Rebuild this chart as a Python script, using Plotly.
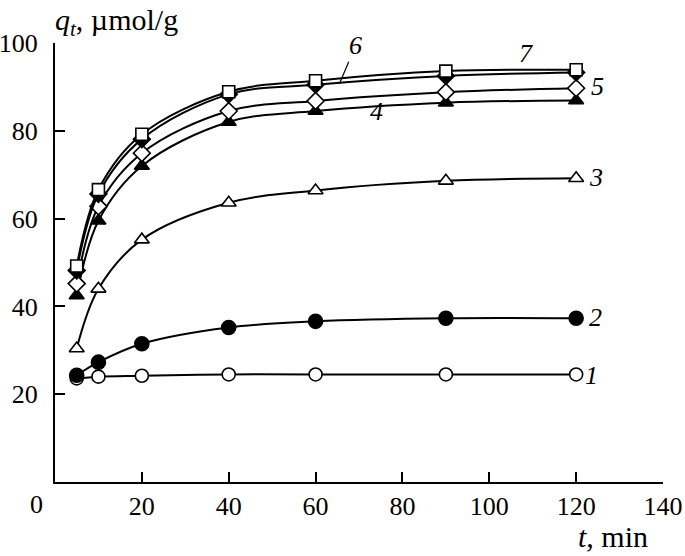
import plotly.graph_objects as go

# adsorption kinetics, q_t vs t for 7 samples
t = [5, 10, 20, 40, 60, 90, 120]
q1 = [23.6, 24.0, 24.2, 24.5, 24.5, 24.5, 24.5]
q2 = [24.3, 27.3, 31.5, 35.2, 36.6, 37.3, 37.3]
q3 = [30.4, 44.0, 55.2, 63.6, 66.4, 68.6, 69.2]
q4 = [42.5, 59.5, 72.0, 82.0, 84.5, 86.4, 86.9]
q5 = [45.2, 62.8, 74.9, 84.5, 86.8, 88.8, 89.7]
q6 = [48.2, 65.6, 78.1, 88.3, 90.5, 92.5, 93.3]
q7 = [49.2, 66.6, 79.2, 88.9, 91.4, 93.6, 93.9]

# (values, symbol, filled, size)
series = [
    (q1, 'circle', False, 13),
    (q2, 'circle', True, 14),
    (q3, 'triangle-up', False, 13),
    (q4, 'triangle-up', True, 13),
    (q5, 'diamond', False, 13),
    (q6, 'diamond', True, 13),
    (q7, 'square', False, 12),
]

fig = go.Figure()
for q, sym, filled, sz in series:
    fig.add_trace(go.Scatter(
        x=t, y=q, mode='lines+markers',
        line=dict(color='black', width=2, shape='spline', smoothing=1.0),
        marker=dict(symbol=sym, size=sz, color='black' if filled else 'white',
                    line=dict(color='black', width=1.6)),
        showlegend=False))

serif = 'Liberation Serif, Times New Roman, serif'
font = dict(family=serif, size=26, color='black')
lab = dict(family=serif, size=26, color='black')
big = dict(family=serif, size=30, color='black')

# curve numbers
nums = [('1', 123.5, 24.3), ('2', 124.5, 37.5), ('3', 124.5, 69.3),
        ('4', 74, 84.5), ('5', 125, 90.2), ('7', 108.5, 97.5)]
for s, xx, yy in nums:
    fig.add_annotation(x=xx, y=yy, text='<i>%s</i>' % s, showarrow=False,
                       xanchor='center', yanchor='middle', font=lab)
fig.add_annotation(x=65.5, y=90.7, text='<i>6</i>', showarrow=True, arrowhead=0,
                   arrowwidth=1.2, arrowcolor='black', ax=16, ay=-38, font=lab)

fig.add_annotation(xref='paper', yref='paper', x=-0.03, y=0, text='0', showarrow=False,
                   xanchor='center', yanchor='middle', yshift=-22, font=font)
fig.add_annotation(xref='paper', yref='paper', x=-0.003, y=1.048,
                   text='<i>q<sub>t</sub></i>, µmol/g', showarrow=False,
                   xanchor='left', yanchor='middle', font=big)
fig.add_annotation(xref='paper', yref='paper', x=0.979, y=-0.125,
                   text='<i>t</i>, min', showarrow=False,
                   xanchor='right', yanchor='middle', font=big)

fig.update_xaxes(range=[0, 140], tickvals=[20, 40, 60, 80, 100, 120, 140],
                 ticks='inside', ticklen=10, tickwidth=1.5, tickcolor='black',
                 showline=True, linecolor='black', linewidth=2, showgrid=False,
                 zeroline=False, tickfont=font, ticklabelstandoff=0, automargin=False)
fig.update_yaxes(range=[0, 100], tickvals=[20, 40, 60, 80, 100],
                 ticks='inside', ticklen=10, tickwidth=1.5, tickcolor='black',
                 showline=True, linecolor='black', linewidth=2, showgrid=False,
                 zeroline=False, tickfont=font, ticklabelstandoff=10, automargin=False)
fig.update_layout(width=685, height=556, plot_bgcolor='white', paper_bgcolor='white',
                  font=dict(family=serif, size=26, color='black'),
                  margin=dict(l=55, r=22, t=43, b=74, autoexpand=False))
# drop the browser's default body margin so the figure fills the window
fig.write_html("out.html", config={'displayModeBar': False},
               post_script="document.body.style.margin='0px';")
